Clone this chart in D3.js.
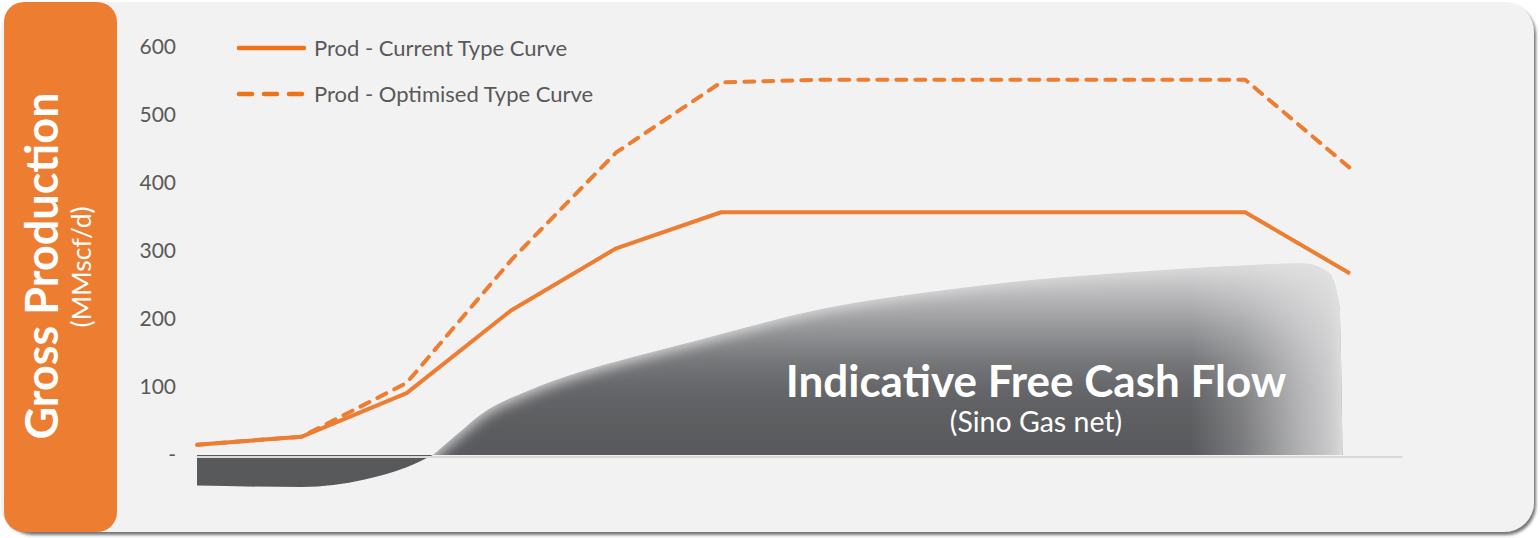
<!DOCTYPE html>
<html>
<head>
<meta charset="utf-8">
<script src="https://cdn.jsdelivr.net/npm/d3@7"></script>
<style>
  body { margin: 0; background: #fff; }
  svg { display: block; font-family: Lato, "Open Sans", sans-serif; }
</style>
</head>
<body>
<div id="chart"></div>
<script>
// period index (one point per year, labels not shown on the chart)
var periods = [0, 1, 2, 3, 4, 5, 6, 7, 8, 9, 10, 11];
var prodCurrent = [15, 27, 91, 213, 304, 357, 357, 357, 357, 357, 357, 267];
var prodOptimised = [15, 27, 106, 287, 445, 548, 552, 552, 552, 552, 552, 422];

// indicative free cash flow (shape only, same y units)
var cashNegX = [0, 1, 1.6, 2, 2.25];
var cashNegY = [-45, -47, -36, -18, 0];
var cashPosX = [2.25, 2.5, 2.7, 3.18, 3.65, 4.13, 4.61, 5, 6, 7, 8, 9, 10, 10.55, 10.8, 10.9, 10.93];
var cashPosY = [0, 33, 59, 96, 122, 143, 162, 178, 216, 240, 258, 270, 279, 282, 268, 220, 0];

var yTicks = [0, 100, 200, 300, 400, 500, 600];
var legendLabels = ['Prod - Current Type Curve', 'Prod - Optimised Type Curve'];

var W = 1540, H = 538;
var orange = '#ed7d31';
var textGrey = '#595959';

var svg = d3.select('#chart').append('svg')
  .attr('width', W)
  .attr('height', H);

var defs = svg.append('defs');

defs.append('filter').attr('id', 'soft')
  .attr('x', '-10%').attr('y', '-20%').attr('width', '120%').attr('height', '140%')
  .append('feGaussianBlur').attr('stdDeviation', 7);

defs.append('filter').attr('id', 'shadow')
  .attr('x', '-5%').attr('y', '-5%').attr('width', '110%').attr('height', '110%')
  .append('feDropShadow')
  .attr('dx', 2).attr('dy', 3).attr('stdDeviation', 1.5)
  .attr('flood-color', '#555').attr('flood-opacity', 0.8);

// vertical shading of the cash flow shape
var vGrad = defs.append('linearGradient').attr('id', 'cashV')
  .attr('gradientUnits', 'userSpaceOnUse')
  .attr('x1', 0).attr('x2', 0).attr('y1', 262).attr('y2', 440);
[[0, '#dcdcdd'], [0.22, '#b2b2b4'], [0.38, '#949597'], [0.55, '#76777a'], [0.72, '#646568'], [1, '#595a5d']]
  .forEach(function(s) {
    vGrad.append('stop').attr('offset', s[0]).attr('stop-color', s[1]);
  });

// fade towards the right end
var hGrad = defs.append('linearGradient').attr('id', 'cashH')
  .attr('gradientUnits', 'userSpaceOnUse')
  .attr('x1', 1190).attr('x2', 1342).attr('y1', 0).attr('y2', 0);
[[0, 0], [0.35, 0.25], [0.7, 0.62], [1, 0.88]].forEach(function(s) {
  hGrad.append('stop').attr('offset', s[0])
    .attr('stop-color', '#e2e2e3').attr('stop-opacity', s[1]);
});

// panel background
svg.append('rect')
  .attr('x', 1).attr('y', 2)
  .attr('width', 1533).attr('height', 530)
  .attr('rx', 30)
  .attr('fill', '#f2f2f2')
  .attr('filter', 'url(#shadow)');

// orange side box
svg.append('rect')
  .attr('x', 4).attr('y', 2)
  .attr('width', 113).attr('height', 530)
  .attr('rx', 20)
  .attr('fill', orange);

svg.append('text')
  .attr('transform', 'translate(58,266) rotate(-90)')
  .attr('text-anchor', 'middle')
  .attr('fill', '#fff')
  .attr('font-weight', 'bold')
  .attr('font-size', 45)
  .text('Gross Production');

svg.append('text')
  .attr('transform', 'translate(91,267) rotate(-90)')
  .attr('text-anchor', 'middle')
  .attr('fill', '#fff')
  .attr('font-size', 26.5)
  .text('(MMscf/d)');

var x = d3.scaleLinear().domain([0, 11]).range([197, 1350]);
var y = d3.scaleLinear().domain([0, 600]).range([455, 47]);

// y axis labels
var yAxis = d3.axisLeft(y)
  .tickValues(yTicks)
  .tickSize(0)
  .tickPadding(0)
  .tickFormat(function(d) { return d === 0 ? '-' : d; });

var gy = svg.append('g')
  .attr('transform', 'translate(176,0)')
  .call(yAxis);
gy.select('.domain').remove();
gy.selectAll('text')
  .attr('fill', textGrey)
  .attr('font-size', 21)
  .attr('font-family', 'Lato, "Open Sans", sans-serif');

var cashNeg = cashNegX.map(function(v, i) { return [v, cashNegY[i]]; });
var cashPos = cashPosX.map(function(v, i) { return [v, cashPosY[i]]; });

var area = d3.area()
  .x(function(d) { return x(d[0]); })
  .y0(y(0))
  .y1(function(d) { return y(d[1]); })
  .curve(d3.curveMonotoneX);

// negative part, solid dark
svg.append('path')
  .datum(cashNeg)
  .attr('d', area)
  .attr('fill', '#58595b');

// positive part: light base, blurred shaded core, right fade; all clipped to the shape
defs.append('clipPath').attr('id', 'cashClip')
  .append('path')
  .datum(cashPos)
  .attr('d', area);

var cashG = svg.append('g').attr('clip-path', 'url(#cashClip)');
cashG.append('path')
  .datum(cashPos)
  .attr('d', area)
  .attr('fill', '#dcdcdd');

var coreArea = d3.area()
  .x(function(d) { return x(d[0]); })
  .y0(y(0) + 60)
  .y1(function(d) { return y(d[1]) + 4; })
  .curve(d3.curveMonotoneX);

cashG.append('path')
  .datum(cashPos)
  .attr('d', coreArea)
  .attr('fill', 'url(#cashV)')
  .attr('filter', 'url(#soft)');

cashG.append('path')
  .datum(cashPos)
  .attr('d', area)
  .attr('fill', 'url(#cashH)');

// base line
svg.append('line')
  .attr('x1', x(0)).attr('x2', x(11.5))
  .attr('y1', y(0) + 2).attr('y2', y(0) + 2)
  .attr('stroke', '#d9d9d9')
  .attr('stroke-width', 2);

// cash flow label
svg.append('text')
  .attr('x', 1036).attr('y', 397)
  .attr('text-anchor', 'middle')
  .attr('fill', '#fff')
  .attr('font-weight', 'bold')
  .attr('font-size', 44)
  .text('Indicative Free Cash Flow');

svg.append('text')
  .attr('x', 1036).attr('y', 432)
  .attr('text-anchor', 'middle')
  .attr('fill', '#fff')
  .attr('font-size', 28.5)
  .text('(Sino Gas net)');

// production lines
var line = d3.line()
  .x(function(d, i) { return x(periods[i]); })
  .y(function(d) { return y(d); });

svg.append('path')
  .datum(prodCurrent)
  .attr('d', line)
  .attr('fill', 'none')
  .attr('stroke', orange)
  .attr('stroke-width', 4)
  .attr('stroke-linejoin', 'round');

svg.append('path')
  .datum(prodOptimised)
  .attr('d', line)
  .attr('fill', 'none')
  .attr('stroke', orange)
  .attr('stroke-width', 4)
  .attr('stroke-dasharray', '10,9')
  .attr('stroke-linecap', 'round');

// legend
var legend = svg.append('g').selectAll('g')
  .data(legendLabels)
  .enter().append('g')
  .attr('transform', function(d, i) { return 'translate(237,' + (48 + i * 46) + ')'; });

legend.append('line')
  .attr('x1', 2).attr('x2', 67)
  .attr('stroke', '#ec7318')
  .attr('stroke-width', 4.5)
  .attr('stroke-linecap', 'round')
  .attr('stroke-dasharray', function(d, i) { return i ? '13,12' : null; });

legend.append('text')
  .attr('x', 77).attr('y', 7.5)
  .attr('fill', textGrey)
  .attr('font-size', 22)
  .text(function(d) { return d; });
</script>
</body>
</html>
